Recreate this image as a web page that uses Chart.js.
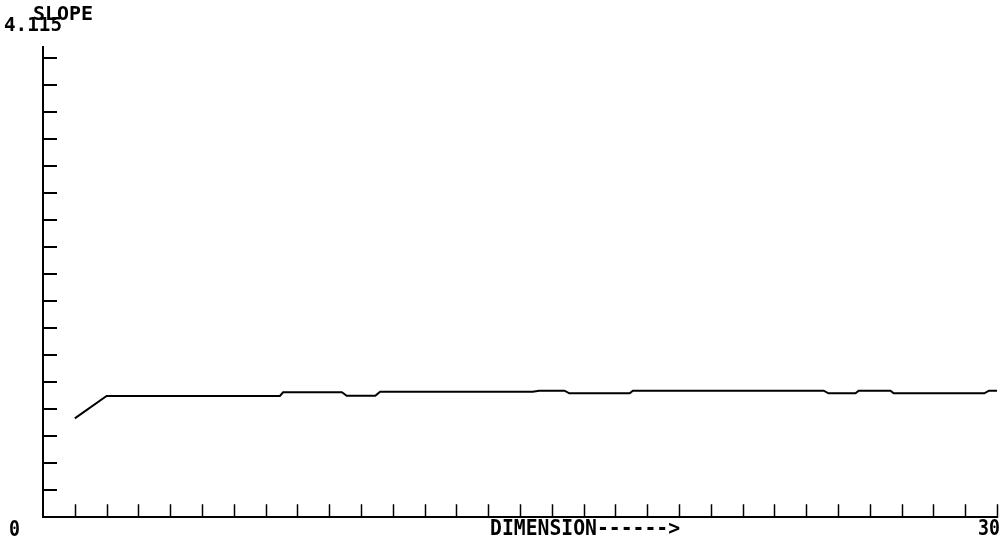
<!DOCTYPE html>
<html>
<head>
<meta charset="utf-8">
<title>Slope vs dimension</title>
<script src="https://cdn.jsdelivr.net/npm/chart.js@4.4.1/dist/chart.umd.min.js"></script>
<style>
  html, body { margin: 0; padding: 0; background: #fff; }
  canvas { display: block; }
</style>
</head>
<body>
<canvas id="slopeChart" width="1004" height="544"></canvas>
<script>
// embedding dimension and estimated slope at each step of the run
const dims = [1, 2, 7.45, 7.55, 9.4, 9.55, 10.45, 10.6, 15.4, 15.6, 16.4, 16.55,
  18.45, 18.55, 24.55, 24.7, 25.55, 25.65, 26.65, 26.75, 29.6, 29.75, 30];
const slope = [0.864, 1.06, 1.06, 1.092, 1.092, 1.062, 1.062, 1.097, 1.097, 1.106, 1.106, 1.083,
  1.083, 1.106, 1.106, 1.083, 1.083, 1.106, 1.106, 1.083, 1.083, 1.106, 1.106];

const xMin = 0;
const xMax = 30;
const yMin = 0;
const yMax = 4.115;
const yTickStep = 0.2364;

const yTitle = "SLOPE";
const yMaxLabel = "4.115";
const xMinLabel = "0";
const xMaxLabel = "30";
const xTitle = "DIMENSION------>";

const points = dims.map((d, i) => ({ x: d, y: slope[i] }));

// draws a label squeezed to a given width and height scale, like the old plotter font
function plotText(ctx, text, x, y, width, yScale) {
  ctx.save();
  ctx.translate(x, y);
  ctx.scale(1, yScale);
  ctx.fillText(text, 0, 0, width);
  ctx.restore();
}

const plotterAxes = {
  id: "plotterAxes",
  afterDatasetsDraw(chart) {
    const ctx = chart.ctx;
    const xs = chart.scales.x;
    const ys = chart.scales.y;
    const x0 = xs.getPixelForValue(xMin);
    const x1 = xs.getPixelForValue(xMax);
    const y0 = ys.getPixelForValue(yMin);
    const yTop = ys.getPixelForValue(yMax);

    ctx.save();
    ctx.strokeStyle = "#000";
    ctx.lineCap = "square";

    // axes
    ctx.lineWidth = 2;
    ctx.beginPath();
    ctx.moveTo(x0, yTop);
    ctx.lineTo(x0, y0);
    ctx.lineTo(x1, y0);
    ctx.stroke();

    // y ticks point inward
    for (let k = 1; k * yTickStep < yMax - 0.05; k++) {
      const y = Math.round(ys.getPixelForValue(k * yTickStep));
      ctx.beginPath();
      ctx.moveTo(x0, y);
      ctx.lineTo(x0 + 13, y);
      ctx.stroke();
    }

    // x ticks at each dimension
    ctx.lineWidth = 1.5;
    for (let d = xMin + 1; d <= xMax; d++) {
      const x = Math.round(xs.getPixelForValue(d)) + 0.5;
      ctx.beginPath();
      ctx.moveTo(x, y0);
      ctx.lineTo(x, y0 - 12);
      ctx.stroke();
    }

    // labels
    ctx.fillStyle = "#000";
    ctx.textBaseline = "alphabetic";
    ctx.textAlign = "left";
    ctx.font = 'bold 21px "DejaVu Sans Mono"';
    plotText(ctx, yTitle, x0 - 10, yTop - 27, 60, 0.95);
    plotText(ctx, yMaxLabel, x0 - 39, yTop - 16, 58, 0.9);
    plotText(ctx, xMinLabel, x0 - 34, y0 + 19, 11, 1.05);
    plotText(ctx, xTitle, 490, y0 + 18, 190, 1.05);
    plotText(ctx, xMaxLabel, x1 - 19, y0 + 18, 22, 1.05);
    ctx.restore();
  }
};

new Chart(document.getElementById("slopeChart"), {
  type: "scatter",
  data: {
    datasets: [{
      label: "slope",
      data: points,
      showLine: true,
      borderColor: "#000",
      borderWidth: 2,
      pointRadius: 0,
      tension: 0,
      clip: false
    }]
  },
  options: {
    responsive: false,
    animation: false,
    devicePixelRatio: 1,
    layout: { padding: { left: 43, right: 7, top: 47, bottom: 27 } },
    scales: {
      x: { type: "linear", min: xMin, max: xMax, display: false },
      y: { type: "linear", min: yMin, max: yMax, display: false }
    },
    plugins: {
      legend: { display: false },
      tooltip: { enabled: false }
    }
  },
  plugins: [plotterAxes]
});
</script>
</body>
</html>
